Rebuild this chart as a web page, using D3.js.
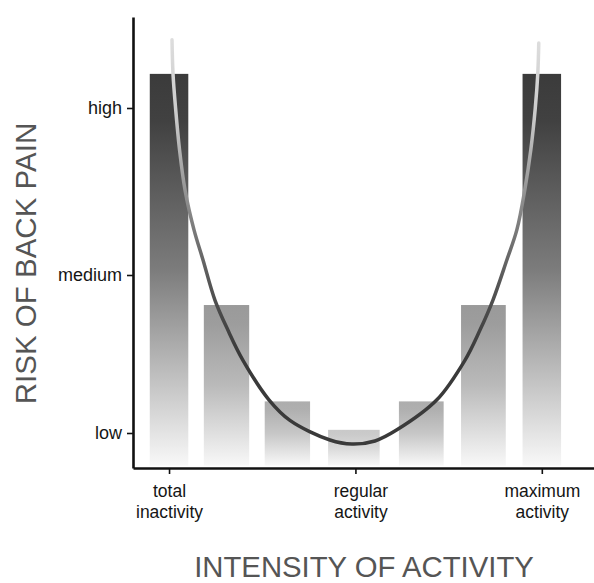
<!DOCTYPE html>
<html>
<head>
<meta charset="utf-8">
<script src="https://cdn.jsdelivr.net/npm/d3@7"></script>
<style>
  html, body { margin: 0; padding: 0; background: #fff; }
  svg { display: block; }
  text { font-family: "Liberation Sans", Arial, sans-serif; }
</style>
</head>
<body>
<svg id="chart" width="594" height="583"></svg>
<script>
// ---- data ----
const riskLabels = ["low", "medium", "high"];
const riskValues = [1, 2, 3];
const activityTickValues = [0, 3, 6];
const activityTickLabels = [["total", "inactivity"], ["regular", "activity"], ["maximum", "activity"]];

// bars: intensity interval (start, end) and risk level
const barStart = [-0.31, 0.56, 1.54, 2.56, 3.70, 4.70, 5.69];
const barEnd   = [ 0.31, 1.29, 2.27, 3.39, 4.42, 5.42, 6.31];
const barRisk  = [ 3.21, 1.81, 1.20, 1.02, 1.20, 1.81, 3.21];
const barBase = 0.80;

// U-shaped risk curve
const curveIntensity = [0.048, 0.064, 0.105, 0.169, 0.257, 0.402, 0.547, 0.740, 0.949, 1.190, 1.608, 1.946, 2.590, 2.944,
                        3.314, 3.668, 4.311, 4.762, 5.003, 5.212, 5.437, 5.598, 5.726, 5.823, 5.895, 5.935, 5.951];
const curveRisk      = [3.42, 3.21, 3.00, 2.75, 2.51, 2.27, 2.09, 1.84, 1.65, 1.46, 1.21, 1.08, 0.957, 0.932,
                        0.951, 1.02, 1.21, 1.46, 1.65, 1.84, 2.09, 2.27, 2.51, 2.75, 3.00, 3.21, 3.40];

// ---- scales ----
const svg = d3.select("#chart");
const x = d3.scaleLinear().domain([-0.58, 6.84]).range([133, 594]);
const y = d3.scaleLinear().domain([0.785, 1, 2, 3, 3.56]).range([468, 433, 275, 108, 17]);
const topColor = d3.scaleLinear().domain([1.02, 1.2, 1.81, 3.21])
  .range(["#c9c9c9", "#adadad", "#9a9a9a", "#3b3b3b"]);

const defs = svg.append("defs");

// bar gradients
const bars = barRisk.map((r, i) => ({ start: barStart[i], end: barEnd[i], risk: r }));
bars.forEach((b, i) => {
  const c = topColor(b.risk);
  const g = defs.append("linearGradient").attr("id", "bar" + i)
    .attr("x1", 0).attr("y1", 0).attr("x2", 0).attr("y2", 1);
  g.append("stop").attr("offset", "0%").attr("stop-color", c);
  g.append("stop").attr("offset", "12%").attr("stop-color", d3.interpolateRgb(c, "#f6f6f6")(0.03));
  g.append("stop").attr("offset", "50%").attr("stop-color", d3.interpolateRgb(c, "#f6f6f6")(0.35));
  g.append("stop").attr("offset", "100%").attr("stop-color", "#f8f8f8");
});

// curve gradient
const cg = defs.append("linearGradient").attr("id", "curveGrad")
  .attr("gradientUnits", "userSpaceOnUse")
  .attr("x1", 0).attr("x2", 0).attr("y1", y(3.42)).attr("y2", y(1.5));
[["0%", "#dddddd"], ["25%", "#cacaca"], ["52%", "#8c8c8c"], ["78%", "#555555"], ["100%", "#3a3a3a"]]
  .forEach(s => cg.append("stop").attr("offset", s[0]).attr("stop-color", s[1]));

// bars
svg.append("g").selectAll("rect").data(bars).join("rect")
  .attr("x", d => x(d.start))
  .attr("width", d => x(d.end) - x(d.start))
  .attr("y", d => y(d.risk))
  .attr("height", d => y(barBase) - y(d.risk))
  .attr("fill", (d, i) => `url(#bar${i})`);

// curve
const pts = curveIntensity.map((v, i) => [v, curveRisk[i]]);
const line = d3.line().x(d => x(d[0])).y(d => y(d[1])).curve(d3.curveCatmullRom.alpha(0.5));
svg.append("path").datum(pts)
  .attr("d", line)
  .attr("fill", "none")
  .attr("stroke", "url(#curveGrad)")
  .attr("stroke-width", 3.5)
  .attr("stroke-linecap", "round");

// y axis
const yAxis = svg.append("g").attr("transform", "translate(133,0)")
  .call(d3.axisLeft(y).tickValues(riskValues).tickFormat((d, i) => riskLabels[i]).tickSize(6).tickSizeOuter(0).tickPadding(5));
yAxis.select(".domain").attr("stroke", "#111").attr("stroke-width", 2.6);
yAxis.selectAll(".tick line").attr("stroke", "#111").attr("stroke-width", 1.6);
yAxis.selectAll(".tick text").attr("font-size", 18).attr("fill", "#151515")
  .attr("font-family", "'Liberation Sans', Arial, sans-serif");

// x axis
const xAxis = svg.append("g").attr("transform", "translate(0,468)")
  .call(d3.axisBottom(x).tickValues(activityTickValues).tickFormat("").tickSize(6).tickSizeOuter(0));
xAxis.select(".domain").attr("stroke", "#111").attr("stroke-width", 2.6);
xAxis.selectAll(".tick line").attr("stroke", "#111").attr("stroke-width", 1.6);
xAxis.selectAll(".tick").each(function (d, i) {
  const g = d3.select(this);
  activityTickLabels[i].forEach((s, j) => {
    g.append("text")
      .attr("text-anchor", "middle")
      .attr("font-size", 17.5)
      .attr("fill", "#151515")
      .attr("x", i === 1 ? 5 : 0)
      .attr("y", 29 + j * 20.5)
      .text(s);
  });
});

// axis titles
svg.append("text")
  .attr("transform", `translate(36,${(y(0.785) + 17) / 2 + 21}) rotate(-90)`)
  .attr("text-anchor", "middle")
  .attr("font-size", 29.5)
  .attr("fill", "#555")
  .text("RISK OF BACK PAIN");

svg.append("text")
  .attr("x", 364).attr("y", 577)
  .attr("text-anchor", "middle")
  .attr("font-size", 29.3)
  .attr("fill", "#555")
  .text("INTENSITY OF ACTIVITY");
</script>
</body>
</html>
